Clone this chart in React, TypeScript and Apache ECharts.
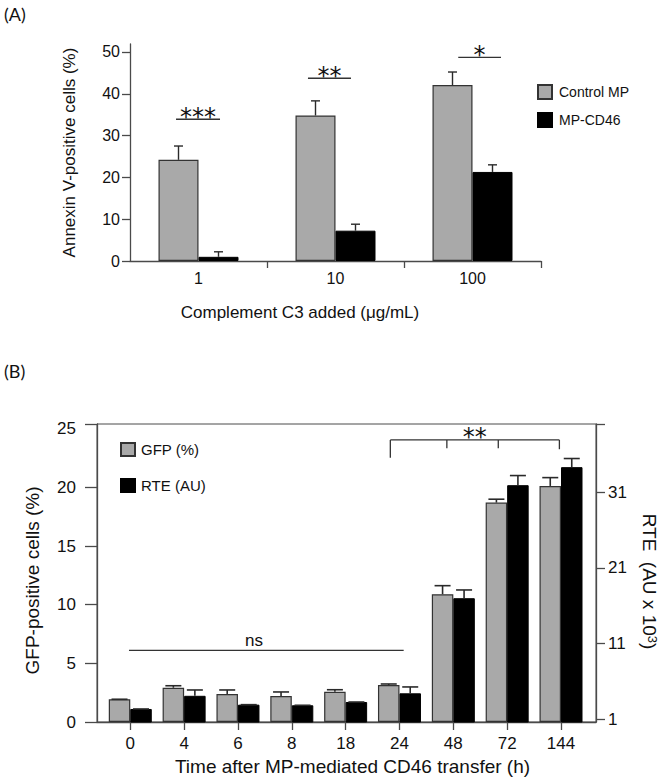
import React, { useEffect, useRef } from "react";
import * as echarts from "echarts";

// ---------- Panel A data ----------
const catsA = ["1", "10", "100"];
const controlMP = [24.2, 34.8, 42.1];
const controlMPErr = [27.5, 38.3, 45.2];
const mpCD46 = [1.0, 7.25, 21.3];
const mpCD46Err = [2.2, 8.8, 23.0];
const ticksA = [0, 10, 20, 30, 40, 50];
const boundsA = [0.5, 1.5, 2.5];
// significance bars: [xStart, xEnd, y]
const sigA = [
  [-0.164, 0.157, 33.9],
  [0.799, 1.113, 43.7],
  [1.896, 2.208, 48.7],
];
const sigALabels = ["***", "**", "*"];

// ---------- Panel B data ----------
const catsB = ["0", "4", "6", "8", "18", "24", "48", "72", "144"];
const gfp = [1.94, 2.92, 2.39, 2.22, 2.58, 3.15, 10.89, 18.7, 20.12];
const gfpErr = [1.94, 3.09, 2.73, 2.56, 2.75, 3.24, 11.62, 18.99, 20.83];
const rte = [2.36, 4.1, 2.93, 2.85, 3.28, 4.43, 16.99, 31.92, 34.3];
const rteErr = [2.36, 4.87, 2.93, 2.85, 3.28, 5.27, 18.08, 33.19, 35.44];
const ticksBLeft = [0, 5, 10, 15, 20, 25];
const ticksBRight = [1, 11, 21, 31];
const nsLine = [-0.024, 5.078, 6.1];
const nsLabelX = 2.3;
const bracketX = [4.83, 5.88, 6.835, 7.97];
const bracketDrop = [22.53, 23.33, 23.33, 23.25];
const bracketY = 24.04;
const bracketLabelX = 6.4;

const A_MAX = 51.9;
const BL_MAX = 25.4;
const BR_MIN = 0.64;
const BR_MAX = 40;

const AXIS = "#4a4a4a";
const TXT = "#111";
const GRAY = "#a9a9a9";
const FONT = "'Liberation Sans', Arial, sans-serif";
const STAR_FONT = "'DejaVu Sans', sans-serif";
const STAR_SIZE = 24;
const STAR_DROP = 9.5;

function errSeries(
  xIdx: number,
  yIdx: number,
  vals: number[],
  errs: number[],
  offsetPx: number,
  capPx: number,
  lw: number
) {
  return {
    type: "custom",
    xAxisIndex: xIdx,
    yAxisIndex: yIdx,
    silent: true,
    z: 5,
    clip: false,
    data: vals.map((v, i) => [i, v, errs[i]]),
    renderItem: (params: any, api: any) => {
      const base = api.coord([api.value(0), api.value(1)]);
      const top = api.coord([api.value(0), api.value(2)]);
      const x = base[0] + offsetPx;
      const st = { stroke: "#2a2a2a", lineWidth: lw };
      return {
        type: "group",
        children: [
          { type: "line", shape: { x1: x, y1: base[1], x2: x, y2: top[1] }, style: st },
          { type: "line", shape: { x1: x - capPx / 2, y1: top[1], x2: x + capPx / 2, y2: top[1] }, style: st },
        ],
      };
    },
  };
}

export default function App() {
  const ref = useRef<HTMLDivElement>(null);
  useEffect(() => {
    if (!ref.current) return;
    const chart = echarts.init(ref.current, undefined, { renderer: "svg" });
    const labelStyle = (size: number) => ({ color: TXT, fontSize: size, fontFamily: FONT });

    const option: any = {
      animation: false,
      backgroundColor: "#fff",
      title: [
        { text: "(A)", left: 4, top: 5, padding: 0, textStyle: { fontFamily: "Lato, sans-serif", fontSize: 18, fontWeight: "normal", color: TXT } },
        { text: "(B)", left: 4, top: 362, padding: 0, textStyle: { fontFamily: "Lato, sans-serif", fontSize: 18, fontWeight: "normal", color: TXT } },
      ],
      legend: [
        {
          data: ["Control MP", "MP-CD46"],
          orient: "vertical",
          left: 537,
          top: 84,
          padding: 0,
          itemWidth: 14,
          itemHeight: 14,
          itemGap: 12,
          icon: "rect",
          selectedMode: false,
          textStyle: { ...labelStyle(14), padding: [0, 0, 0, 2] },
        },
        {
          data: ["GFP (%)", "RTE (AU)"],
          orient: "vertical",
          left: 120,
          top: 442,
          padding: 0,
          itemWidth: 14,
          itemHeight: 13,
          itemGap: 21,
          icon: "rect",
          selectedMode: false,
          textStyle: { ...labelStyle(15), padding: [0, 0, 0, 1] },
        },
      ],
      grid: [
        { left: 130, top: 44, width: 411, height: 217, outerBoundsMode: "none", containLabel: false },
        {
          left: 97,
          top: 424,
          width: 499,
          height: 298,
          outerBoundsMode: "none",
          containLabel: false,
          show: true,
          borderColor: AXIS,
          borderWidth: 1,
          backgroundColor: "transparent",
        },
      ],
      xAxis: [
        {
          type: "value",
          gridIndex: 0,
          min: -0.5,
          max: 2.5,
          splitLine: { show: false },
          axisLine: { show: true, onZero: false, lineStyle: { color: AXIS, width: 1.3 } },
          axisTick: { show: true, customValues: boundsA, length: 7, lineStyle: { color: AXIS, width: 1.3 } },
          axisLabel: {
            customValues: catsA.map((_, i) => i),
            formatter: (v: number) => catsA[Math.round(v)],
            margin: 9,
            ...labelStyle(16),
          },
          name: "Complement C3 added (μg/mL)",
          nameLocation: "middle",
          nameGap: 43,
          nameTextStyle: { ...labelStyle(17), padding: [0, 71, 0, 0] },
        },
        {
          type: "value",
          gridIndex: 1,
          min: -0.618,
          max: 8.65,
          splitLine: { show: false },
          axisLine: { show: true, onZero: false, lineStyle: { color: AXIS, width: 1.3 } },
          axisTick: { show: true, customValues: catsB.map((_, i) => i), length: 8, lineStyle: { color: AXIS, width: 1.3 } },
          axisLabel: {
            customValues: catsB.map((_, i) => i),
            formatter: (v: number) => catsB[Math.round(v)],
            margin: 13,
            ...labelStyle(17),
          },
          name: "Time after MP-mediated CD46 transfer (h)",
          nameLocation: "middle",
          nameGap: 35,
          nameTextStyle: { ...labelStyle(19), padding: [0, 0, 0, 12] },
        },
      ],
      yAxis: [
        {
          type: "value",
          gridIndex: 0,
          min: 0,
          max: A_MAX,
          splitLine: { show: false },
          axisLine: { show: true, onZero: false, lineStyle: { color: AXIS, width: 1.3 } },
          axisTick: { show: true, customValues: ticksA, length: 8, lineStyle: { color: AXIS, width: 1.3 } },
          axisLabel: { customValues: ticksA, margin: 10, ...labelStyle(16) },
          name: "Annexin V-positive cells (%)",
          nameLocation: "middle",
          nameGap: 52,
          nameTextStyle: { ...labelStyle(17), padding: [0, 0, 0, 0] },
        },
        {
          type: "value",
          gridIndex: 1,
          min: 0,
          max: BL_MAX,
          splitLine: { show: false },
          axisLine: { show: true, onZero: false, lineStyle: { color: AXIS, width: 1.3 } },
          axisTick: {
            show: true,
            customValues: [...ticksBLeft.filter((t) => t < 25), BL_MAX],
            length: 12,
            lineStyle: { color: AXIS, width: 1.3 },
          },
          axisLabel: { customValues: ticksBLeft, margin: 21, ...labelStyle(17) },
          name: "GFP-positive cells (%)",
          nameLocation: "middle",
          nameGap: 55,
          nameTextStyle: { ...labelStyle(19), padding: [0, 15, 0, 0] },
        },
        {
          type: "value",
          gridIndex: 1,
          position: "right",
          min: BR_MIN,
          max: BR_MAX,
          splitLine: { show: false },
          axisLine: { show: true, onZero: false, lineStyle: { color: AXIS, width: 1.3 } },
          axisTick: {
            show: true,
            customValues: [...ticksBRight, BR_MAX],
            length: 9,
            lineStyle: { color: AXIS, width: 1.3 },
          },
          axisLabel: { customValues: ticksBRight, margin: 12, ...labelStyle(17) },
          name: "RTE  (AU x 10{sup|3})",
          nameLocation: "middle",
          nameRotate: -90,
          nameGap: 44,
          nameTextStyle: {
            ...labelStyle(19),
            padding: [0, 0, 0, 17],
            rich: { sup: { fontSize: 13, fontFamily: FONT, color: TXT, verticalAlign: "top", lineHeight: 12 } },
          },
        },
      ],
      series: [
        {
          name: "Control MP",
          type: "bar",
          xAxisIndex: 0,
          yAxisIndex: 0,
          barWidth: 40,
          barGap: "0%",
          itemStyle: { color: GRAY, borderColor: "#333", borderWidth: 1.2 },
          data: controlMP.map((v, i) => [i, v]),
        },
        {
          name: "MP-CD46",
          type: "bar",
          xAxisIndex: 0,
          yAxisIndex: 0,
          barWidth: 40,
          barGap: "0%",
          itemStyle: { color: "#000", borderColor: "#000", borderWidth: 1 },
          data: mpCD46.map((v, i) => [i, v]),
        },
        errSeries(0, 0, controlMP, controlMPErr, -20, 9, 1.4),
        errSeries(0, 0, mpCD46, mpCD46Err, 20, 9, 1.4),
        {
          type: "custom",
          xAxisIndex: 0,
          yAxisIndex: 0,
          silent: true,
          clip: false,
          data: sigA,
          renderItem: (params: any, api: any) => {
            const p0 = api.coord([api.value(0), api.value(2)]);
            const p1 = api.coord([api.value(1), api.value(2)]);
            return {
              type: "group",
              children: [
                { type: "line", shape: { x1: p0[0], y1: p0[1], x2: p1[0], y2: p1[1] }, style: { stroke: "#333", lineWidth: 1.4 } },
                {
                  type: "text",
                  x: (p0[0] + p1[0]) / 2,
                  y: p0[1] + STAR_DROP,
                  style: {
                    text: sigALabels[params.dataIndex],
                    fontFamily: STAR_FONT,
                    fontSize: STAR_SIZE,
                    align: "center",
                    verticalAlign: "bottom",
                    fill: TXT,
                  },
                },
              ],
            };
          },
        },
        {
          name: "GFP (%)",
          type: "bar",
          xAxisIndex: 1,
          yAxisIndex: 1,
          barWidth: 21.5,
          barGap: "0%",
          itemStyle: { color: GRAY, borderColor: "#333", borderWidth: 1.2 },
          data: gfp.map((v, i) => [i, v]),
        },
        {
          name: "RTE (AU)",
          type: "bar",
          xAxisIndex: 1,
          yAxisIndex: 2,
          barWidth: 21.5,
          barGap: "0%",
          itemStyle: { color: "#000", borderColor: "#000", borderWidth: 1 },
          data: rte.map((v, i) => [i, v]),
        },
        errSeries(1, 1, gfp, gfpErr, -10.75, 16, 1.6),
        errSeries(1, 2, rte, rteErr, 10.75, 16, 1.6),
        {
          type: "custom",
          xAxisIndex: 1,
          yAxisIndex: 1,
          silent: true,
          clip: false,
          data: [nsLine],
          renderItem: (params: any, api: any) => {
            const p0 = api.coord([api.value(0), api.value(2)]);
            const p1 = api.coord([api.value(1), api.value(2)]);
            const pl = api.coord([nsLabelX, api.value(2)]);
            return {
              type: "group",
              children: [
                { type: "line", shape: { x1: p0[0], y1: p0[1], x2: p1[0], y2: p1[1] }, style: { stroke: "#333", lineWidth: 1.3 } },
                {
                  type: "text",
                  x: pl[0],
                  y: pl[1] - 10,
                  style: { text: "ns", fontFamily: FONT, fontSize: 17, align: "center", verticalAlign: "middle", fill: TXT },
                },
              ],
            };
          },
        },
        {
          type: "custom",
          xAxisIndex: 1,
          yAxisIndex: 1,
          silent: true,
          clip: false,
          data: [[bracketY]],
          renderItem: (params: any, api: any) => {
            const yv = api.value(0);
            const left = api.coord([bracketX[0], yv]);
            const right = api.coord([bracketX[bracketX.length - 1], yv]);
            const st = { stroke: "#333", lineWidth: 1.3 };
            const children: any[] = [
              { type: "line", shape: { x1: left[0], y1: left[1], x2: right[0], y2: right[1] }, style: st },
            ];
            bracketX.forEach((bx, i) => {
              const a = api.coord([bx, yv]);
              const b = api.coord([bx, bracketDrop[i]]);
              children.push({ type: "line", shape: { x1: a[0], y1: a[1], x2: b[0], y2: b[1] }, style: st });
            });
            const lab = api.coord([bracketLabelX, yv]);
            children.push({
              type: "text",
              x: lab[0],
              y: lab[1] + STAR_DROP,
              style: { text: "**", fontFamily: STAR_FONT, fontSize: STAR_SIZE, align: "center", verticalAlign: "bottom", fill: TXT },
            });
            return { type: "group", children };
          },
        },
      ],
    };
    chart.setOption(option);
    return () => chart.dispose();
  }, []);
  return (
    <div
      ref={ref}
      style={{ position: "absolute", left: 0, top: 0, width: 672, height: 784, background: "#fff" }}
    />
  );
}
